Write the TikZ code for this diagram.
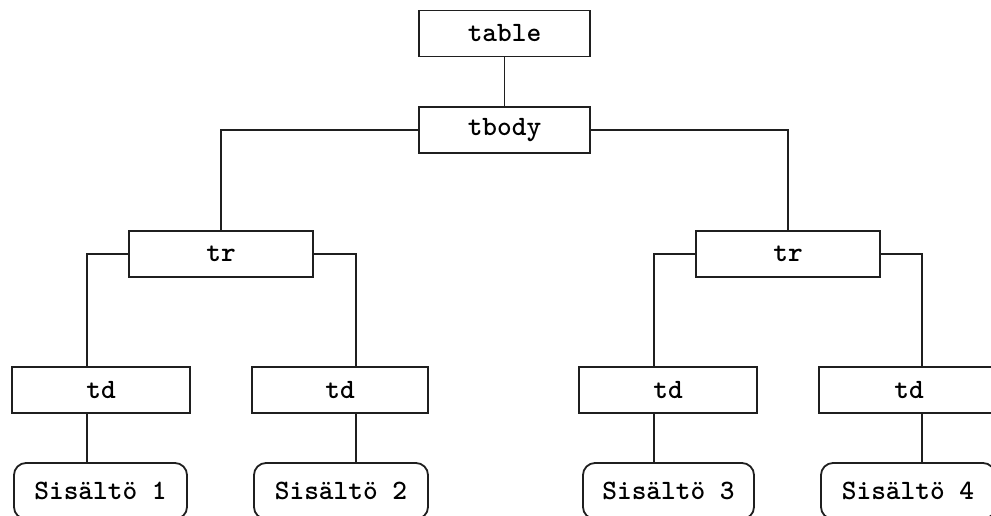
\documentclass[tikz,border=0pt]{standalone}
\usepackage{fontspec}
\definecolor{mline}{rgb}{0.12, 0.12, 0.12}

\begin{document}
\begin{tikzpicture}[x=1pt, y=-1pt, line width=1.8pt,
    tagbox/.style={draw=mline, rectangle, inner sep=0pt, minimum height=46pt,
      font=\ttfamily\bfseries\fontsize{28}{34}\selectfont},
    contentbox/.style={tagbox, rounded corners=12pt, minimum height=56pt}]
      \useasboundingbox (0, 0) rectangle (991, 515);
      \clip (0, 0) rectangle (991, 515);

      \node [tagbox, minimum width=171pt] (table) at (504.5, 33.5) {table};
      \node [tagbox, minimum width=171pt] (tbody) at (504.5, 130) {tbody};

      \node [tagbox, minimum width=184pt] (tr1) at (221, 254) {tr};
      \node [tagbox, minimum width=184pt] (tr2) at (788, 254) {tr};

      \node [tagbox, minimum width=178pt] (td1) at (101, 390) {td};
      \node [tagbox, minimum width=176pt] (td2) at (340, 390) {td};
      \node [tagbox, minimum width=178pt] (td3) at (668, 390) {td};
      \node [tagbox, minimum width=180pt] (td4) at (909, 390) {td};

      \node [contentbox, minimum width=173pt] (s1) at (100.5, 491) {Sisältö 1};
      \node [contentbox, minimum width=174pt] (s2) at (341, 491) {Sisältö 2};
      \node [contentbox, minimum width=171pt] (s3) at (668.5, 491) {Sisältö 3};
      \node [contentbox, minimum width=174pt] (s4) at (908, 491) {Sisältö 4};

      \draw [mline] (table.south) -- (tbody.north);
      \draw [mline] (tbody.west) -| (tr1.north);
      \draw [mline] (tbody.east) -| (tr2.north);

      \draw [mline] (tr1.west) -| ([xshift=-14pt]td1.north);
      \draw [mline] (tr1.east) -| ([xshift=16pt]td2.north);
      \draw [mline] (tr2.west) -| ([xshift=-14pt]td3.north);
      \draw [mline] (tr2.east) -| ([xshift=13pt]td4.north);

      \draw [mline] ([xshift=-14pt]td1.south) -- ([xshift=-14pt]td1.south |- s1.north);
      \draw [mline] ([xshift=16pt]td2.south) -- ([xshift=16pt]td2.south |- s2.north);
      \draw [mline] ([xshift=-14pt]td3.south) -- ([xshift=-14pt]td3.south |- s3.north);
      \draw [mline] ([xshift=13pt]td4.south) -- ([xshift=13pt]td4.south |- s4.north);
    \end{tikzpicture}
\end{document}
